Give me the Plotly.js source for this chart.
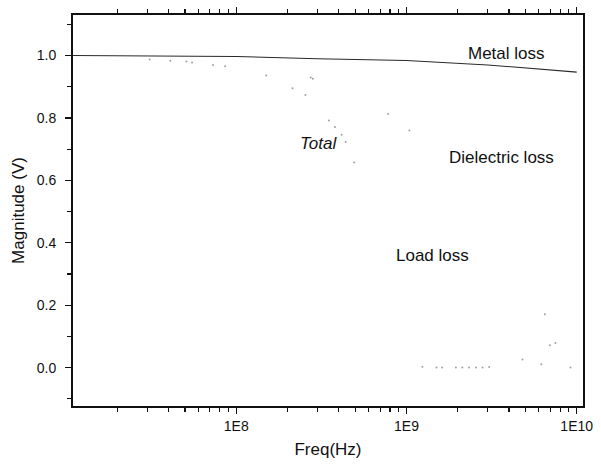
<!DOCTYPE html>
<html>
<head>
<meta charset="utf-8">
<script src="https://cdn.plot.ly/plotly-3.0.1.min.js"></script>
<style>html,body{margin:0;padding:0;background:#fff;}#chart{width:601px;height:468px;}</style>
</head>
<body>
<div id="chart"></div>
<script>
// Metal loss (solid line)
const metalFreq = [1.1e7, 3e7, 1e8, 3e8, 1e9, 3e9, 1e10];
const metalMag  = [1.000, 0.999, 0.997, 0.990, 0.984, 0.970, 0.947];

// Total (faint dotted remnants)
const totalFreq = [3.1e7, 4.1e7, 5.1e7, 5.5e7, 7.3e7, 8.6e7, 1.5e8, 2.14e8, 2.55e8, 3.5e8, 3.8e8, 4.16e8, 4.39e8, 4.93e8];
const totalMag  = [0.987, 0.983, 0.981, 0.978, 0.970, 0.966, 0.936, 0.895, 0.874, 0.792, 0.771, 0.746, 0.723, 0.657];

// Dielectric loss (faint dotted remnants)
const dielFreq = [2.74e8, 2.82e8, 7.8e8, 1.04e9];
const dielMag  = [0.930, 0.926, 0.813, 0.760];

// Load loss (faint dotted remnants)
const loadFreq = [1.24e9, 1.5e9, 1.62e9, 1.95e9, 2.13e9, 2.33e9, 2.56e9, 2.80e9, 3.06e9, 4.8e9, 6.2e9, 6.5e9, 6.95e9, 7.5e9, 9.2e9];
const loadMag  = [0.003, 0.0, 0.0, 0.0, 0.0, 0.0, 0.0, 0.0, 0.002, 0.026, 0.011, 0.171, 0.072, 0.079, 0.0];

// Axis tick labels
const xTickVals = [1e8, 1e9, 1e10];
const xTickText = ['1E8', '1E9', '1E10'];

// Curve labels
const labelText = ['Metal loss', 'Total', 'Dielectric loss', 'Load loss'];
const labelFreq = [3.89e9, 3.06e8, 3.63e9, 1.43e9];
const labelMag  = [1.006, 0.718, 0.673, 0.36];

const minorVals = [];
for (let e = 7; e <= 10; e++) for (let m = 2; m <= 9; m++) minorVals.push(m * Math.pow(10, e));

const font = 'Liberation Sans, Arial, sans-serif';
const dotStyle = {color: '#a0a0a0', size: 2};

const traces = [
  {x: metalFreq, y: metalMag, mode: 'lines', line: {color: '#2a2a2a', width: 1.1}, name: 'Metal loss'},
  {x: totalFreq, y: totalMag, mode: 'markers', marker: dotStyle, name: 'Total'},
  {x: dielFreq, y: dielMag, mode: 'markers', marker: dotStyle, name: 'Dielectric loss'},
  {x: loadFreq, y: loadMag, mode: 'markers', marker: dotStyle, name: 'Load loss'}
];

const annotations = labelText.map((t, i) => ({
  x: Math.log10(labelFreq[i]), y: labelMag[i], xref: 'x', yref: 'y',
  text: t, showarrow: false,
  font: {family: font, size: 17, color: '#111', style: t === 'Total' ? 'italic' : 'normal'}
}));

const layout = {
  width: 601, height: 468,
  margin: {l: 73, r: 18, t: 15, b: 62},
  paper_bgcolor: '#fff', plot_bgcolor: '#fff',
  showlegend: false,
  font: {family: font, color: '#111'},
  xaxis: {
    type: 'log', range: [7.041, 10.037],
    tickmode: 'array', tickvals: xTickVals, ticktext: xTickText,
    ticks: 'outside', ticklen: 6, tickwidth: 1.3, tickcolor: '#111',
    minor: {tickmode: 'array', tickvals: minorVals, ticks: 'outside', ticklen: 4, tickwidth: 1.1, tickcolor: '#111', showgrid: false},
    showline: true, linecolor: '#111', linewidth: 2, mirror: 'ticks',
    showgrid: false, zeroline: false,
    tickfont: {family: font, size: 14, color: '#111'},
    title: {text: 'Freq(Hz)', font: {family: font, size: 17, color: '#111'}, standoff: 10}
  },
  yaxis: {
    range: [-0.123, 1.13],
    tick0: 0, dtick: 0.2, tickformat: '.1f',
    ticks: 'outside', ticklen: 6, tickwidth: 1.3, tickcolor: '#111',
    minor: {dtick: 0.1, tick0: 0.1, ticks: 'outside', ticklen: 4, tickwidth: 1.1, tickcolor: '#111', showgrid: false},
    showline: true, linecolor: '#111', linewidth: 2, mirror: true,
    showgrid: false, zeroline: false,
    ticklabelstandoff: 6,
    tickfont: {family: font, size: 14, color: '#111'},
    title: {text: 'Magnitude (V)', font: {family: font, size: 17, color: '#111'}, standoff: 8}
  },
  annotations: annotations
};

Plotly.newPlot('chart', traces, layout, {displayModeBar: false, staticPlot: true});
</script>
</body>
</html>
